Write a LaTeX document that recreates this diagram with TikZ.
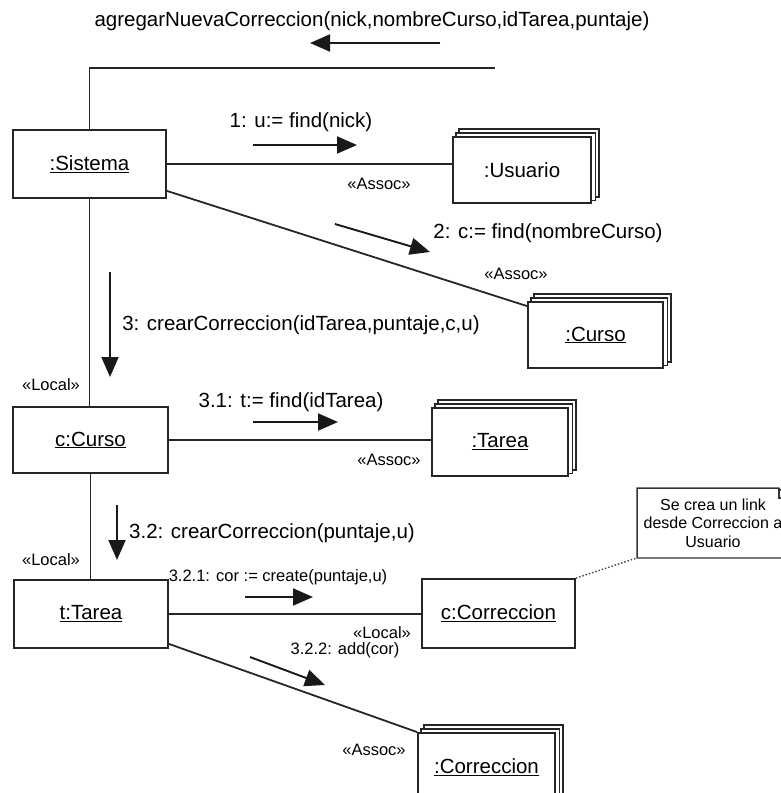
\documentclass[tikz,border=0pt]{standalone}
\usepackage{fontspec}
\setmainfont{Liberation Sans}
\usetikzlibrary{arrows.meta,backgrounds}
\begin{document}
\begin{tikzpicture}[x=1pt,y=-1pt,
  line width=1.8pt, draw=black!85,
  obj/.style={draw=black!85, fill=white, line width=1.8pt, minimum height=68pt,
    inner sep=0pt, font=\fontsize{20.5}{24}\selectfont},
  lbl/.style={inner sep=0pt, font=\fontsize{20.5}{24}\selectfont},
  small/.style={inner sep=0pt, font=\fontsize{16.5}{19}\selectfont},
  link/.style={draw=black!85, line width=1.8pt},
  msg/.style={draw=black!90, line width=1.9pt, -{Triangle[length=20pt,width=17pt]}},
  notebox/.style={inner sep=0pt, minimum width=150pt, minimum height=68pt,
    align=center, font=\fontsize{16}{18.5}\selectfont}
]
\useasboundingbox (0,0) rectangle (781,793);
\clip (0,0) rectangle (781,793);

% stacked (multi-object) back layers
\newcommand\stackback[1]{%
  \begin{scope}[on background layer]
    \foreach \d in {7,3.5}
      \draw[draw=black!85, fill=white, line width=1.8pt]
        ([shift={(\d pt,\d pt)}]#1.south west) rectangle ([shift={(\d pt,\d pt)}]#1.north east);
  \end{scope}}

% objects
\node[obj, minimum width=153pt] (sistema) at (89.5,164) {\underline{:Sistema}};
\node[obj, minimum width=138pt, minimum height=66pt] (usuario) at (522,170) {:Usuario};
\stackback{usuario}
\node[obj, minimum width=135pt, minimum height=66pt] (curso) at (595.5,335) {\underline{:Curso}};
\stackback{curso}
\node[obj, minimum width=155pt, minimum height=66pt] (ccurso) at (90.5,440) {\underline{c:Curso}};
\node[obj, minimum width=136pt] (tarea) at (500,442) {\underline{:Tarea}};
\stackback{tarea}
\node[obj, minimum width=154pt] (ttarea) at (91,614) {\underline{t:Tarea}};
\node[obj, minimum width=153pt, minimum height=69pt] (ccorreccion) at (498.5,613.5) {\underline{c:Correccion}};
\node[obj, minimum width=137pt] (correccion) at (486.5,767) {\underline{:Correccion}};
\stackback{correccion}

% note
\node[notebox] (note) at (713,523) {Se crea un link\\desde Correccion a\\Usuario};
\draw[draw=black!80, line width=1.3pt]
  (note.south west) -- (note.north west) -- ([xshift=-10pt]note.north east)
  -- ([yshift=-10pt]note.north east) -- (note.south east) -- cycle;
\draw[draw=black!80, line width=1.3pt]
  ([xshift=-10pt]note.north east) |- ([yshift=-10pt]note.north east);
\draw[draw=black!75, line width=1.4pt, dotted] (ccorreccion.north east) -- (note.south west);

% links
\coordinate (topend) at (495,68);
\draw[link] (sistema.north) |- (topend);
\draw[link] (sistema.east) -- (sistema.east -| usuario.west);
\draw[link] ([yshift=8pt]sistema.south east) -- ([yshift=-5pt]curso.north west);
\draw[link] (sistema.south) -- (sistema.south |- ccurso.north);
\draw[link] (ccurso.east) -- (ccurso.east -| tarea.west);
\draw[link] (ccurso.south) -- (ccurso.south |- ttarea.north);
\draw[link] (ttarea.east) -- (ttarea.east -| ccorreccion.west);
\draw[link] ([yshift=5pt]ttarea.south east) -- (correccion.north west);

% message arrows
\coordinate (m0s) at (440,43);   \coordinate (m0e) at (310,43);
\coordinate (m1s) at (253,145);  \coordinate (m1e) at (357,145);
\coordinate (m2s) at (335,224);  \coordinate (m2e) at (430,252);
\coordinate (m3s) at (110,272);  \coordinate (m3e) at (110,377);
\coordinate (m31s) at (253,422); \coordinate (m31e) at (338,422);
\coordinate (m32s) at (117,505); \coordinate (m32e) at (117,560);
\coordinate (m321s) at (245,597); \coordinate (m321e) at (313,597);
\coordinate (m322s) at (250,657); \coordinate (m322e) at (325,685);
\foreach \m in {m0,m1,m2,m3,m31,m32,m321,m322}
  \draw[msg] (\m s) -- (\m e);

% message labels
\node[lbl] (t0) at (372,21) {agregarNuevaCorreccion(nick,nombreCurso,idTarea,puntaje)};
\node[lbl] (t1) at (301,122) {1: u:= find(nick)};
\node[lbl] (t2) at (548,233) {2: c:= find(nombreCurso)};
\node[lbl] (t3) at (301,325) {3: crearCorreccion(idTarea,puntaje,c,u)};
\node[lbl] (t31) at (291,402) {3.1: t:= find(idTarea)};
\node[lbl] (t32) at (272,533) {3.2: crearCorreccion(puntaje,u)};
\node[small] (t321) at (278,577) {3.2.1: cor := create(puntaje,u)};
\node[small] (t322) at (345,650) {3.2.2: add(cor)};

% stereotypes
\node[small] (s1) at (379,184) {«Assoc»};
\node[small] (s2) at (516,274) {«Assoc»};
\node[small] (s3) at (389,460) {«Assoc»};
\node[small] (s4) at (374,750) {«Assoc»};
\node[small] (s5) at (51,385) {«Local»};
\node[small] (s6) at (51,560) {«Local»};
\node[small] (s7) at (382,633) {«Local»};
\end{tikzpicture}
\end{document}
